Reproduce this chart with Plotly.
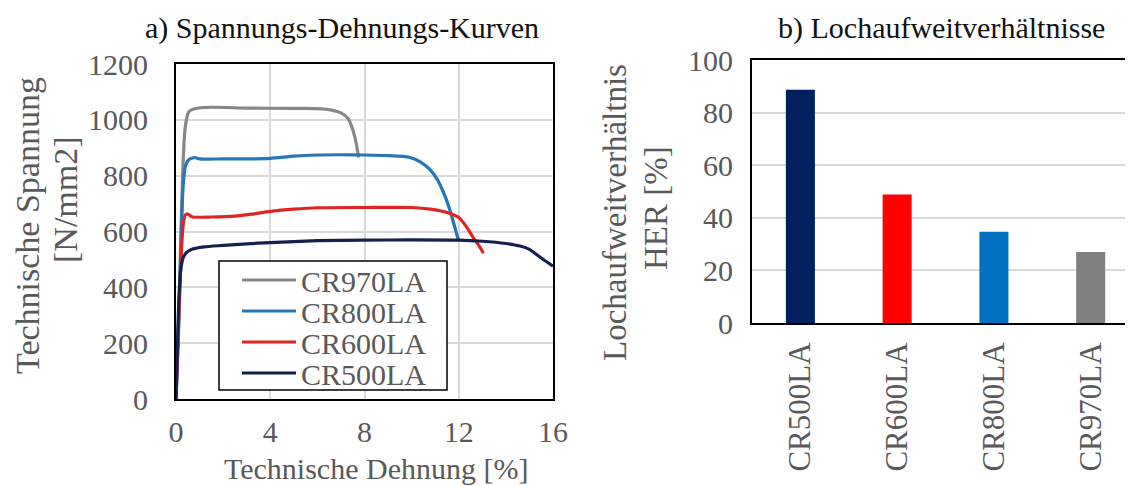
import plotly.graph_objects as go

# ---------------- data ----------------
series_names = ["CR970LA", "CR800LA", "CR600LA", "CR500LA"]
line_colors = ["#878787", "#2577b8", "#e02424", "#14214d"]

strain_970 = [0, 0.1, 0.2, 0.3, 0.4, 0.55, 0.8, 1.5, 3, 5, 6, 6.6, 7.0, 7.3, 7.5, 7.65, 7.75]
stress_970 = [0, 250, 560, 850, 980, 1030, 1040, 1045, 1042, 1041, 1040, 1035, 1025, 1005, 965, 915, 865]

strain_800 = [0, 0.1, 0.2, 0.3, 0.4, 0.55, 0.8, 1.0, 2, 3, 4, 5, 6, 7, 8, 9, 9.9, 10.4, 10.8, 11.1, 11.4, 11.65, 11.85, 12.0]
stress_800 = [0, 220, 520, 760, 835, 858, 865, 860, 860, 860, 862, 870, 874, 875, 874, 872, 866, 848, 820, 785, 730, 670, 610, 565]

strain_600 = [0, 0.1, 0.2, 0.3, 0.4, 0.5, 0.7, 1.5, 2.5, 3.2, 4, 5, 6, 8, 10, 10.8, 11.5, 12, 12.3, 12.6, 12.85, 13.05]
stress_600 = [0, 250, 480, 620, 660, 662, 652, 652, 655, 662, 672, 680, 685, 686, 686, 680, 668, 650, 620, 580, 550, 522]

strain_500 = [0, 0.12, 0.2, 0.3, 0.45, 0.7, 1.2, 2, 3, 4, 5, 6, 8, 10, 12, 13, 14, 14.6, 15, 15.5, 16]
stress_500 = [0, 350, 460, 505, 525, 537, 545, 550, 556, 560, 564, 567, 569, 570, 569, 565, 557, 548, 536, 505, 476]

strains = [strain_970, strain_800, strain_600, strain_500]
stresses = [stress_970, stress_800, stress_600, stress_500]

her_categories = ["CR500LA", "CR600LA", "CR800LA", "CR970LA"]
her_values = [88.7, 48.9, 34.7, 27.0]
bar_colors = ["#002060", "#ff0000", "#0070c0", "#808080"]

x_ticks = [0, 4, 8, 12, 16]
y_ticks_left = [0, 200, 400, 600, 800, 1000, 1200]
y_ticks_right = [0, 20, 40, 60, 80, 100]

# ---------------- figure ----------------
W, H = 1133, 486
OFF = 8  # page offset of the plot div (default body margin)
FONT = "Liberation Serif"
TXT = "#595959"
GRID = "#d9d9d9"
FS = 30
FS_V = 34  # rotated axis titles


def px_x(p):
    return (p - OFF) / W


def px_y(p):
    return (H - (p - OFF)) / H


fig = go.Figure()

for name, col, sx, sy in zip(series_names, line_colors, strains, stresses):
    fig.add_trace(go.Scatter(
        x=sx, y=sy, mode="lines", name=name, showlegend=False,
        line=dict(color=col, width=3.2, shape="spline", smoothing=0.6),
        xaxis="x", yaxis="y",
    ))

fig.add_trace(go.Bar(
    x=her_categories, y=her_values, marker=dict(color=bar_colors, line=dict(width=0)),
    width=0.3, showlegend=False, xaxis="x2", yaxis="y2",
))

fig.update_layout(
    width=W, height=H,
    margin=dict(l=0, r=0, t=0, b=0, pad=0, autoexpand=False),
    paper_bgcolor="white", plot_bgcolor="white",
    font=dict(family=FONT, size=FS, color=TXT),
    showlegend=False,
    xaxis=dict(
        domain=[px_x(176), px_x(553)], range=[0, 16], tickvals=x_ticks,
        showgrid=True, gridcolor=GRID, gridwidth=1.5,
        showline=True, linecolor="black", linewidth=2, mirror=True,
        zeroline=False, ticks="", ticklabelstandoff=5,
        tickfont=dict(family=FONT, size=FS, color=TXT),
        anchor="y", automargin=False,
    ),
    yaxis=dict(
        domain=[px_y(399), px_y(64)], range=[0, 1200], tickvals=y_ticks_left,
        showgrid=True, gridcolor=GRID, gridwidth=1.5,
        showline=True, linecolor="black", linewidth=2, mirror=True,
        zeroline=False, ticks="", ticklabelstandoff=20,
        tickfont=dict(family=FONT, size=FS, color=TXT),
        anchor="x", automargin=False,
    ),
    xaxis2=dict(
        domain=[px_x(752), 1.0], range=[-0.5, 3.52],
        type="category",
        showgrid=False,
        showline=True, linecolor="black", linewidth=2, mirror=True,
        zeroline=False, ticks="", tickangle=-90, ticklabelstandoff=5,
        tickfont=dict(family=FONT, size=31, color=TXT),
        anchor="y2", automargin=False,
    ),
    yaxis2=dict(
        domain=[px_y(323), px_y(60)], range=[0, 100], tickvals=y_ticks_right,
        showgrid=True, gridcolor=GRID, gridwidth=1.5,
        showline=True, linecolor="black", linewidth=2, mirror=False,
        zeroline=False, ticks="", ticklabelstandoff=11,
        tickfont=dict(family=FONT, size=FS, color=TXT),
        anchor="x2", automargin=False,
    ),
)

annotations = [
    dict(text="a) Spannungs-Dehnungs-Kurven", x=px_x(342), y=px_y(28),
         font=dict(family=FONT, size=FS, color="#111111")),
    dict(text="b) Lochaufweitverhältnisse", x=px_x(941), y=px_y(28),
         font=dict(family=FONT, size=FS, color="#111111")),
    dict(text="Technische Dehnung [%]", x=px_x(376), y=px_y(468),
         font=dict(family=FONT, size=FS, color=TXT)),
    dict(text="Technische Spannung", x=px_x(28), y=px_y(226),
         textangle=-90, font=dict(family=FONT, size=FS_V, color=TXT)),
    dict(text="[N/mm2]", x=px_x(65), y=px_y(200),
         textangle=-90, font=dict(family=FONT, size=FS_V, color=TXT)),
    dict(text="Lochaufweitverhältnis", x=px_x(615), y=px_y(213),
         textangle=-90, font=dict(family=FONT, size=33, color=TXT)),
    dict(text="HER [%]", x=px_x(656), y=px_y(208),
         textangle=-90, font=dict(family=FONT, size=33, color=TXT)),
]

# legend box (drawn as a framed panel inside the stress-strain plot)
LEG_L, LEG_R, LEG_T, LEG_B = 219, 447, 261, 390
ROW0, ROW_STEP = 280, 31
shapes = [dict(type="rect", xref="paper", yref="paper",
               x0=px_x(LEG_L), x1=px_x(LEG_R), y0=px_y(LEG_B), y1=px_y(LEG_T),
               line=dict(color="black", width=1.5), fillcolor="white", layer="above")]
for i, (name, col) in enumerate(zip(series_names, line_colors)):
    yy = ROW0 + i * ROW_STEP
    shapes.append(dict(type="line", xref="paper", yref="paper",
                       x0=px_x(242), x1=px_x(296), y0=px_y(yy), y1=px_y(yy),
                       line=dict(color=col, width=3.2), layer="above"))
    annotations.append(dict(text=name, x=px_x(299), y=px_y(yy + 1), xanchor="left",
                            font=dict(family=FONT, size=FS, color=TXT)))

for a in annotations:
    a.setdefault("xanchor", "center")
    a.update(xref="paper", yref="paper", showarrow=False, yanchor="middle")
fig.update_layout(annotations=annotations, shapes=shapes)

fig.write_html("out.html")
